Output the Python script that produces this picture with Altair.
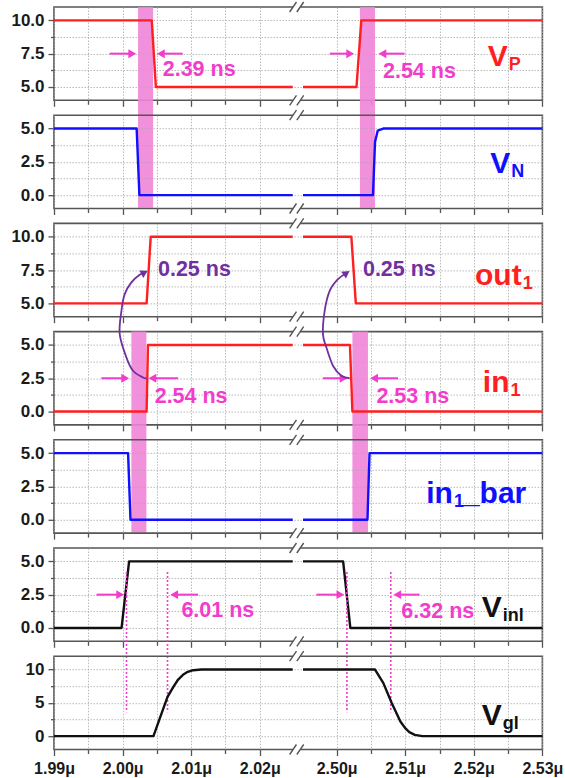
import altair as alt
import pandas as pd

# ---------------- signal data (time in ns, voltage in V) ----------------
VP_T_L = [1990.0, 2004.25, 2004.85, 2024.8]
VP_V_L = [10.0, 10.0, 5.0, 5.0]
VP_T_R = [2495.1, 2502.9, 2503.6, 2530.0]
VP_V_R = [5.0, 5.0, 10.0, 10.0]

VN_T_L = [1990.0, 2002.05, 2002.45, 2024.8]
VN_V_L = [5.0, 5.0, 0.0, 0.0]
VN_T_R = [2495.1, 2505.3, 2505.6, 2506.0, 2506.8, 2530.0]
VN_V_R = [0.0, 0.0, 4.0, 4.85, 5.0, 5.0]

OUT_T_L = [1990.0, 2003.5, 2004.1, 2024.8]
OUT_V_L = [5.0, 5.0, 10.0, 10.0]
OUT_T_R = [2495.1, 2502.15, 2502.8, 2530.0]
OUT_V_R = [10.0, 10.0, 5.0, 5.0]

IN_T_L = [1990.0, 2003.5, 2003.7, 2024.8]
IN_V_L = [0.0, 0.0, 5.0, 5.0]
IN_T_R = [2495.1, 2501.95, 2502.3, 2530.0]
IN_V_R = [5.0, 5.0, 0.0, 0.0]

INB_T_L = [1990.0, 2000.8, 2001.15, 2024.8]
INB_V_L = [5.0, 5.0, 0.0, 0.0]
INB_T_R = [2495.1, 2504.5, 2504.8, 2530.0]
INB_V_R = [0.0, 0.0, 5.0, 5.0]

VINL_T_L = [1990.0, 1999.85, 2000.95, 2024.8]
VINL_V_L = [0.0, 0.0, 5.0, 5.0]
VINL_T_R = [2495.1, 2500.95, 2502.0, 2530.0]
VINL_V_R = [5.0, 5.0, 0.0, 0.0]

VGL_T_L = [1990.0, 2004.5, 2005.5, 2006.55, 2007.4, 2008.1, 2008.8, 2009.5, 2010.3, 2011.5, 2024.8]
VGL_V_L = [0.0, 0.0, 2.9, 5.9, 7.4, 8.5, 9.2, 9.65, 9.9, 10.0, 10.0]
VGL_T_R = [2495.1, 2505.6, 2506.8, 2508.05, 2509.3, 2510.0, 2510.6, 2511.4, 2512.5, 2530.0]
VGL_V_R = [10.0, 10.0, 8.0, 4.95, 2.2, 1.2, 0.6, 0.2, 0.0, 0.0]

SIGNALS = [
    (VP_T_L, VP_V_L, VP_T_R, VP_V_R),
    (VN_T_L, VN_V_L, VN_T_R, VN_V_R),
    (OUT_T_L, OUT_V_L, OUT_T_R, OUT_V_R),
    (IN_T_L, IN_V_L, IN_T_R, IN_V_R),
    (INB_T_L, INB_V_L, INB_T_R, INB_V_R),
    (VINL_T_L, VINL_V_L, VINL_T_R, VINL_V_R),
    (VGL_T_L, VGL_V_L, VGL_T_R, VGL_V_R),
]
SIGNAL_COLORS = ["#ff1f1f", "#1010ff", "#ff1f1f", "#ff1f1f", "#1010ff", "#111111", "#111111"]

Y_DOMAINS = [[4, 11], [-1, 6], [4, 11], [-1, 6], [-1, 6], [-1, 6], [-2, 12]]
Y_TICKS = [[5, 6.25, 7.5, 8.75, 10], [0, 1.25, 2.5, 3.75, 5], [5, 6.25, 7.5, 8.75, 10],
           [0, 1.25, 2.5, 3.75, 5], [0, 1.25, 2.5, 3.75, 5], [0, 1.25, 2.5, 3.75, 5],
           [0, 2.5, 5, 7.5, 10]]
Y_MAJOR_STEP = [2.5, 2.5, 2.5, 2.5, 2.5, 2.5, 5]
Y_FMT = [".1f", ".1f", ".1f", ".1f", ".1f", ".1f", "d"]

# shaded transition windows (panel, start, end)
BAND_PANEL = [0, 0, 3, 3]
BAND_T1 = [2002.25, 2503.4, 2001.28, 2502.3]
BAND_T2 = [2004.45, 2505.6, 2003.47, 2504.57]

# pink measurement arrows (panel, level, tail, head)
ARROW_PANEL = [0, 0, 0, 0, 3, 3, 3, 3, 5, 5, 5, 5]
ARROW_V = [7.5, 7.5, 7.5, 7.5, 2.5, 2.5, 2.5, 2.5, 2.5, 2.5, 2.5, 2.5]
ARROW_TAIL = [1998.1, 2008.76, 2499.0, 2509.9, 1996.9, 2008.08, 2498.0, 2508.95,
              1996.2, 2011.0, 2497.05, 2512.1]
ARROW_HEAD = [2002.06, 2004.93, 2502.63, 2506.03, 2001.03, 2003.7, 2501.66, 2504.82,
              2000.3, 2006.87, 2501.2, 2508.2]

# pink delay labels
PTXT_PANEL = [0, 0, 3, 3, 5, 5]
PTXT_T = [2005.85, 2506.76, 2004.68, 2505.8, 2008.57, 2509.44]
PTXT_V = [6.25, 6.15, 1.1, 1.1, 1.3, 1.2]
PTXT = ["2.39 ns", "2.54 ns", "2.54 ns", "2.53 ns", "6.01 ns", "6.32 ns"]

# purple delay labels (panel out1)
QTXT_T = [2005.16, 2503.84]
QTXT_V = [7.5, 7.5]
QTXT = ["0.25 ns", "0.25 ns"]

# purple curved arrows (drawn in in1 panel units)
CURVE1_T = [2003.47, 2002.97, 2001.52, 2000.55, 1999.58, 1999.83, 2000.31, 2001.28, 2002.49, 2003.4]
CURVE1_V = [2.5, 2.56, 3.06, 4.07, 5.81, 7.56, 8.81, 9.69, 10.26, 10.48]
CURVE2_T = [2501.9, 2500.7, 2499.47, 2498.51, 2498.01, 2498.26, 2498.99, 2500.2, 2501.5]
CURVE2_V = [2.5, 2.69, 3.44, 4.81, 5.81, 7.56, 9.06, 9.94, 10.4]
CURVE_HEAD_T = [2003.2, 2501.45]
CURVE_HEAD_V = [10.43, 10.39]
CURVE_HEAD_ANGLE = [62, 55]

# dotted markers from V_inl into V_gl
DOT_T = [2000.57, 2006.55, 2501.5, 2507.9]
DOT_V = 4.2

# right-hand signal names
LABEL_MAIN = ["V", "V", "out", "in", "in", "V", "V"]
LABEL_SUB = ["P", "N", "1", "1", "1", "inl", "gl"]
LABEL_TAIL = ["", "", "", "", "_bar", "", ""]
LABEL_T = [2524.94, 2525.3, 2526.98, 2525.2, 2516.96, 2524.06, 2524.06]
LABEL_V = [6.6, 1.7, 6.37, 1.44, 1.25, 0.81, 1.74]

# ---------------- layout / style ----------------
FONT = "Liberation Sans"
W, H = 488.4, 93.3
SPACING = 14.2
PINK = "#f23ccb"
BAND = "#f085d8"
PURPLE = "#7030a0"
FRAME = "#555555"
GAP_L, GAP_R = 35.0, 36.2
NOTE_SIZE = 21.5


def disp(t):
    # broken time axis: 1.990-2.025 us, then 2.495-2.530 us
    return t - 1990.0 if t < 2100 else t - 2495.0 + GAP_R


X_TICKS = [0, 5, 10, 15, 20, 25, 30] + [round(GAP_R + 5 * k, 1) for k in range(1, 8)]
XT = "(datum.value < 36 ? 1990 + datum.value : 2458.8 + datum.value)"
XMAJOR = f"round({XT}) % 10 === 0"
XSCALE = alt.Scale(domain=[0, 71.2], nice=False, zero=False)


def xaxis(bottom):
    return alt.Axis(
        values=X_TICKS, title=None, labels=bottom,
        labelExpr=f"{XMAJOR} ? format(round({XT}) / 1000, '.2f') + 'μ' : ''",
        labelFlush=False, labelOverlap=False, labelFont=FONT, labelFontSize=16,
        labelFontWeight="bold", labelColor="#1a1a1a", labelPadding=5,
        ticks=True, tickSize={"condition": {"test": XMAJOR, "value": 6}, "value": 4},
        tickColor=FRAME, tickWidth=1.3, domain=False,
        grid=True, gridColor="#a8a8a8", gridDash=[1.5, 1.5], gridWidth=0.8,
    )


def yaxis(i):
    test = f"datum.value % {Y_MAJOR_STEP[i]} === 0"
    return alt.Axis(
        values=Y_TICKS[i], title=None,
        labelExpr=f"{test} ? format(datum.value, '{Y_FMT[i]}') : ''",
        labelOverlap=False, labelFont=FONT, labelFontSize=17, labelFontWeight="bold",
        labelColor="#1a1a1a", labelPadding=4,
        ticks=True, tickSize={"condition": {"test": test, "value": 6}, "value": 3.5},
        tickColor=FRAME, tickWidth=1.3, domain=False,
        grid=True, gridColor="#a8a8a8", gridDash=[1.5, 1.5], gridWidth=0.8,
    )


def make_panel(i, bottom):
    ys = alt.Scale(domain=Y_DOMAINS[i], nice=False, zero=False)
    xa, ya = xaxis(bottom), yaxis(i)

    def X(f="d"):
        return alt.X(f"{f}:Q", scale=XSCALE, axis=xa)

    def Y(f="v"):
        return alt.Y(f"{f}:Q", scale=ys, axis=ya)

    layers = []

    # shaded windows spanning this panel and the next
    bands = [{"d": disp(a), "d2": disp(b)} for p, a, b in zip(BAND_PANEL, BAND_T1, BAND_T2) if p == i]
    if bands:
        layers.append(alt.Chart(pd.DataFrame(bands)).mark_rect(color=BAND, opacity=0.9).encode(
            x=X(), x2="d2:Q", y=alt.value(0), y2=alt.value(2 * H + SPACING)))

    # signal
    tl, vl, tr, vr = SIGNALS[i]
    rows = [{"d": disp(t), "v": v, "seg": "L", "o": k} for k, (t, v) in enumerate(zip(tl, vl))]
    rows += [{"d": disp(t), "v": v, "seg": "R", "o": k} for k, (t, v) in enumerate(zip(tr, vr))]
    layers.append(alt.Chart(pd.DataFrame(rows)).mark_line(
        color=SIGNAL_COLORS[i], strokeWidth=2.4, strokeJoin="round").encode(
        x=X(), y=Y(), detail="seg:N", order="o:Q"))

    # dotted markers
    if i == 5:
        dots = pd.DataFrame({"d": [disp(t) for t in DOT_T], "v": [DOT_V] * len(DOT_T)})
        layers.append(alt.Chart(dots).mark_rule(color=PINK, strokeWidth=1.6, strokeDash=[2, 2]).encode(
            x=X(), y=Y(), y2=alt.value(164.2)))

    # pink arrows
    arr = []
    for p, v, a, b in zip(ARROW_PANEL, ARROW_V, ARROW_TAIL, ARROW_HEAD):
        if p != i:
            continue
        s = 1 if b > a else -1
        c = b - 0.65 * s
        arr.append({"d": disp(a), "d2": disp(c), "v": v, "hc": disp(c),
                    "shape": "triangle-right" if s > 0 else "triangle-left"})
    if arr:
        adf = pd.DataFrame(arr)
        layers.append(alt.Chart(adf).mark_rule(color=PINK, strokeWidth=2).encode(
            x=X(), x2="d2:Q", y=Y()))
        layers.append(alt.Chart(adf).mark_point(filled=True, opacity=1, size=80, color=PINK).encode(
            x=X("hc"), y=Y(), shape=alt.Shape("shape:N", scale=None)))

    # pink text
    pt = [{"d": disp(t), "v": v, "txt": s} for p, t, v, s in zip(PTXT_PANEL, PTXT_T, PTXT_V, PTXT) if p == i]
    if pt:
        layers.append(alt.Chart(pd.DataFrame(pt)).mark_text(
            font=FONT, fontSize=NOTE_SIZE, fontWeight="bold", color=PINK, align="left",
            baseline="middle").encode(x=X(), y=Y(), text="txt:N"))

    # purple text
    if i == 2:
        qt = pd.DataFrame({"d": [disp(t) for t in QTXT_T], "v": QTXT_V, "txt": QTXT})
        layers.append(alt.Chart(qt).mark_text(
            font=FONT, fontSize=NOTE_SIZE, fontWeight="bold", color=PURPLE, align="left",
            baseline="middle").encode(x=X(), y=Y(), text="txt:N"))

    # signal name
    lab = pd.DataFrame({"d": [disp(LABEL_T[i])], "v": [LABEL_V[i]], "m": [LABEL_MAIN[i]],
                        "s": [LABEL_SUB[i]], "t": [LABEL_TAIL[i]]})
    col = SIGNAL_COLORS[i]
    layers.append(alt.Chart(lab).mark_text(
        font=FONT, fontSize=30, fontWeight="bold", color=col, align="right", baseline="alphabetic").encode(
        x=X(), y=Y(), text="m:N"))
    layers.append(alt.Chart(lab).mark_text(
        font=FONT, fontSize=18, fontWeight="bold", color=col, align="left", baseline="alphabetic",
        dx=1, dy=4).encode(x=X(), y=Y(), text="s:N"))
    if LABEL_TAIL[i]:
        layers.append(alt.Chart(lab).mark_text(
            font=FONT, fontSize=30, fontWeight="bold", color=col, align="left", baseline="alphabetic",
            dx=10).encode(x=X(), y=Y(), text="t:N"))

    # curved purple arrows (in1 panel, reaching up into out1)
    if i == 3:
        crows = [{"d": disp(t), "v": v, "c": "a", "o": k} for k, (t, v) in enumerate(zip(CURVE1_T, CURVE1_V))]
        crows += [{"d": disp(t), "v": v, "c": "b", "o": k} for k, (t, v) in enumerate(zip(CURVE2_T, CURVE2_V))]
        layers.append(alt.Chart(pd.DataFrame(crows)).mark_line(
            color=PURPLE, strokeWidth=1.8, interpolate="cardinal").encode(
            x=X(), y=Y(), detail="c:N", order="o:Q"))
        hd = pd.DataFrame({"d": [disp(t) for t in CURVE_HEAD_T], "v": CURVE_HEAD_V, "a": CURVE_HEAD_ANGLE})
        layers.append(alt.Chart(hd).mark_point(
            shape="triangle-up", filled=True, opacity=1, size=70, color=PURPLE).encode(
            x=X(), y=Y(), angle=alt.Angle("a:Q", scale=None)))

    # axis-break marks on top and bottom edges
    gap = pd.DataFrame({"d": [GAP_L - 0.15], "d2": [GAP_R - 0.3]})
    sl = pd.DataFrame({"d": [GAP_L - 0.65, GAP_L + 0.4], "d2": [GAP_L + 0.35, GAP_L + 1.4]})
    for py in (0, H):
        layers.append(alt.Chart(gap).mark_rule(color="white", strokeWidth=4).encode(
            x=X(), x2="d2:Q", y=alt.value(py)))
        layers.append(alt.Chart(sl).mark_rule(color=FRAME, strokeWidth=1.4).encode(
            x=X(), x2="d2:Q", y=alt.value(py + 5), y2=alt.value(py - 5)))

    return alt.layer(*layers).properties(width=W, height=H)


panels = [make_panel(i, i == 6) for i in range(7)]

chart = alt.vconcat(*panels, spacing=SPACING, bounds="flush").properties(
    padding={"left": 10, "top": 0, "right": 0, "bottom": 0},
    background="white",
).configure_view(stroke=FRAME, strokeWidth=1.6)

chart.save("out.html", embed_options={"renderer": "svg", "actions": False})
